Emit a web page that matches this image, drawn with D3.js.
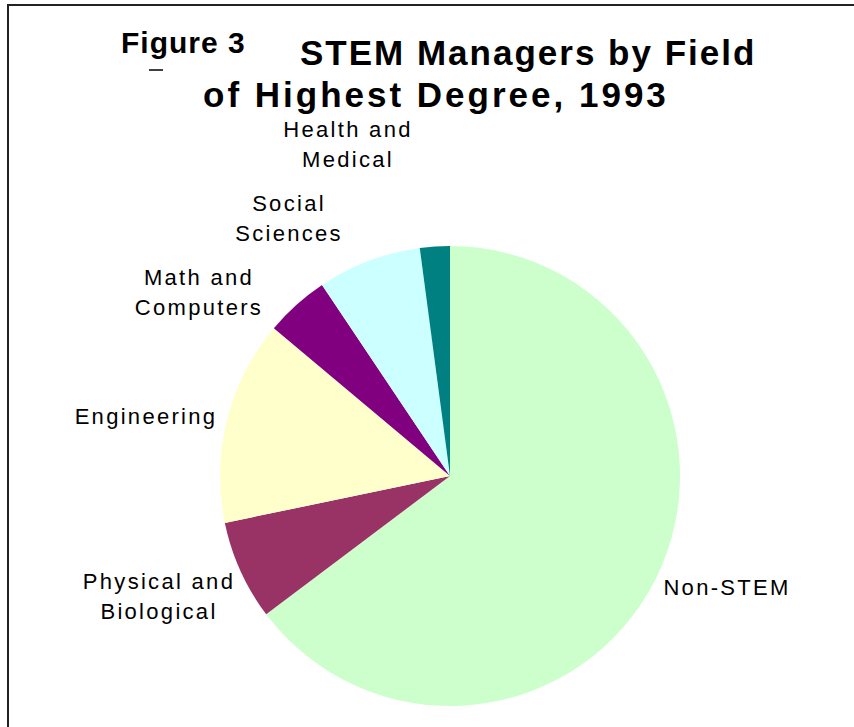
<!DOCTYPE html>
<html>
<head>
<meta charset="utf-8">
<script src="https://cdn.jsdelivr.net/npm/d3@7"></script>
<style>
  body { margin: 0; background: #fff; }
  text { font-family: "Liberation Sans", Arial, sans-serif; fill: #000; }
</style>
</head>
<body>
<div id="chart"></div>
<script>
// field of highest degree, share of STEM managers (percent)
var fields = ["Non-STEM", "Physical and Biological", "Engineering", "Math and Computers", "Social Sciences", "Health and Medical"];
var shares = [64.8, 7.0, 14.4, 4.5, 7.3, 2.1];
var colors = ["#ccffcc", "#993366", "#ffffcc", "#800080", "#ccffff", "#008080"];

var width = 854, height = 727;
var cx = 450, cy = 476, radius = 230;

// label placement, relative to the pie centre (two lines where needed)
var labelAt = {
  "Non-STEM":                {dx: 277,  dy: 119, lines: ["Non-STEM"]},
  "Physical and Biological": {dx: -291, dy: 113, lines: ["Physical and", "Biological"]},
  "Engineering":             {dx: -304, dy: -52, lines: ["Engineering"]},
  "Math and Computers":      {dx: -251, dy: -191, lines: ["Math and", "Computers"]},
  "Social Sciences":         {dx: -161, dy: -265, lines: ["Social", "Sciences"]},
  "Health and Medical":      {dx: -102, dy: -339, lines: ["Health and", "Medical"]}
};

var svg = d3.select("#chart").append("svg")
    .attr("width", width)
    .attr("height", height);

// frame (only top and left edges fall inside the picture)
svg.append("path")
    .attr("d", "M8," + height + "V5H" + width)
    .attr("fill", "none")
    .attr("stroke", "#222")
    .attr("stroke-width", 2);

// title
svg.append("text")
    .attr("x", 121).attr("y", 53)
    .style("font-size", "30px").style("font-weight", "bold")
    .style("letter-spacing", "1px")
    .text("Figure 3");
svg.append("line")
    .attr("x1", 149).attr("x2", 163)
    .attr("y1", 70).attr("y2", 70)
    .attr("stroke", "#000").attr("stroke-width", 1.5);
svg.append("text")
    .attr("x", 300).attr("y", 65)
    .style("font-size", "35px").style("font-weight", "bold")
    .style("letter-spacing", "2px")
    .text("STEM Managers by Field");
svg.append("text")
    .attr("x", 203).attr("y", 107)
    .style("font-size", "35px").style("font-weight", "bold")
    .style("letter-spacing", "3px")
    .text("of Highest Degree, 1993");

var data = fields.map(function(f, i) { return {field: f, share: shares[i], color: colors[i]}; });

var pie = d3.pie()
    .sort(null)
    .value(function(d) { return d.share; });

var arc = d3.arc()
    .innerRadius(0)
    .outerRadius(radius);

var g = svg.append("g")
    .attr("transform", "translate(" + cx + "," + cy + ")");

g.selectAll("path.slice")
    .data(pie(data))
  .enter().append("path")
    .attr("class", "slice")
    .attr("d", arc)
    .attr("fill", function(d) { return d.data.color; });

var labels = g.selectAll("text.label")
    .data(data)
  .enter().append("text")
    .attr("class", "label")
    .attr("text-anchor", "middle")
    .style("font-size", "22px")
    .style("letter-spacing", "2.3px")
    .attr("transform", function(d) {
      var p = labelAt[d.field];
      return "translate(" + p.dx + "," + p.dy + ")";
    });

labels.selectAll("tspan")
    .data(function(d) { return labelAt[d.field].lines; })
  .enter().append("tspan")
    .attr("x", 0)
    .attr("dy", function(d, i) { return i === 0 ? 0 : 29.5; })
    .text(function(d) { return d; });
</script>
</body>
</html>
